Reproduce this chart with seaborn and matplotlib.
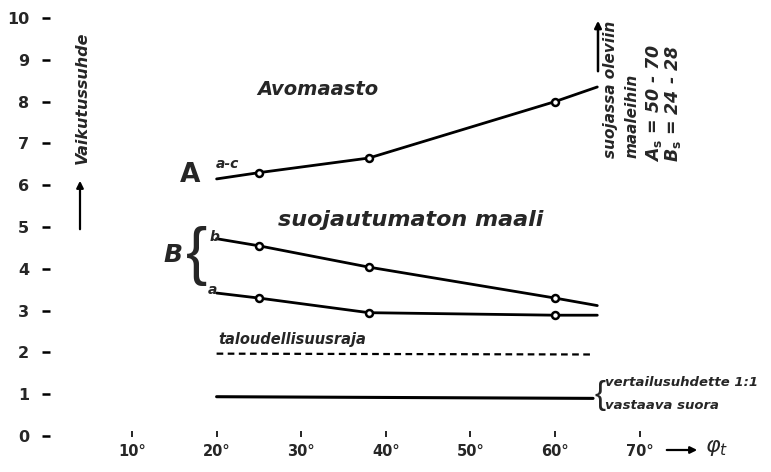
import matplotlib
matplotlib.use("Agg")
import matplotlib.pyplot as plt
import seaborn as sns
import pandas as pd

# ---- data ----
angle_A = [20, 25, 38, 60, 65]
ratio_A = [6.15, 6.30, 6.65, 8.00, 8.35]
angle_B = [20, 25, 38, 60, 65]
ratio_Bb = [4.72, 4.55, 4.04, 3.30, 3.12]
ratio_Ba = [3.42, 3.30, 2.95, 2.89, 2.89]
angle_lim = [20, 64.5]
ratio_econ = [1.97, 1.95]
ratio_ref = [0.94, 0.90]
y_ticks = list(range(0, 11))
x_ticks = [10, 20, 30, 40, 50, 60, 70]
x_tick_labels = [f"{v}°" for v in x_ticks]

sns.set_theme(style="white")
plt.rcParams["font.family"] = ["DejaVu Sans"]

W, H = 771, 472
fig = plt.figure(figsize=(W / 100, H / 100), dpi=100)
L, Bm = 50, 35
ax = fig.add_axes([L / W, Bm / H, (W - L) / W, (H - Bm) / H])
ax.set_facecolor("white")
fig.patch.set_facecolor("white")

# pixel mapping of the reference: x_px = 132 + (deg-10)*8.46 ; y_px = 436 - v*41.8
xmin = 10 + (L - 132) / 8.46
xmax = 10 + (W - 132) / 8.46
ymin = (436 - (H - Bm)) / 41.8
ymax = 436 / 41.8

line_kw = dict(color="black", linewidth=2.0, ax=ax, legend=False)
mk = dict(marker="o", markevery=[1, 2, 3], markersize=5, markerfacecolor="white",
          markeredgecolor="black", markeredgewidth=1.8)

sns.lineplot(x=angle_A, y=ratio_A, **line_kw, **mk)
sns.lineplot(x=angle_B, y=ratio_Bb, **line_kw, **mk)
sns.lineplot(x=angle_B, y=ratio_Ba, **line_kw, **mk)
sns.lineplot(x=angle_lim, y=ratio_econ, color="black", linewidth=1.6, linestyle=(0, (3, 2)), ax=ax)
sns.lineplot(x=angle_lim, y=ratio_ref, color="black", linewidth=2.2, ax=ax)

ax.set_xlim(xmin, xmax)
ax.set_ylim(ymin, ymax)
for s in ax.spines.values():
    s.set_visible(False)

ax.set_yticks(y_ticks)
ax.set_yticklabels([str(v) for v in y_ticks], fontsize=11.5, fontweight="bold")
ax.set_xticks(x_ticks)
ax.set_xticklabels(x_tick_labels, fontsize=10.5, fontweight="bold")
ax.tick_params(axis="y", direction="out", length=6, width=1.8, pad=9, color="black", left=True)
ax.tick_params(axis="x", direction="in", length=4.5, width=1.2, pad=5, color="black", bottom=True)
ax.set_xlabel("")
ax.set_ylabel("")
ax.grid(False)

def fx(px):
    return px / W

def fy(py):
    return 1 - py / H

# in-plot annotations
ax.text(32.0, 8.28, "Avomaasto", fontsize=14, fontweight="bold", style="italic",
        ha="center", va="center")
ax.text(27.3, 5.17, "suojautumaton maali", fontsize=16, fontweight="bold", style="italic",
        ha="left", va="center")
ax.text(16.9, 6.25, "A", fontsize=19, fontweight="bold", ha="center", va="center")
ax.text(21.3, 6.50, "a-c", fontsize=10, fontweight="bold", style="italic", ha="center", va="center")
ax.text(14.8, 4.33, "B", fontsize=18, fontweight="bold", style="italic", ha="center", va="center")
ax.text(17.6, 4.30, "{", fontsize=46, family=["Liberation Sans", "DejaVu Sans"],
        ha="center", va="center")
ax.text(19.8, 4.76, "b", fontsize=10, fontweight="bold", style="italic", ha="center", va="center")
ax.text(19.5, 3.50, "a", fontsize=10, fontweight="bold", style="italic", ha="center", va="center")
ax.text(20.2, 2.30, "taloudellisuusraja", fontsize=10.5, fontweight="bold", style="italic",
        ha="left", va="center")
ax.text(65.3, 0.98, "{", fontsize=24, family=["Liberation Sans", "DejaVu Sans"],
        ha="center", va="center")
ax.text(65.9, 1.27, "vertailusuhdette 1:1", fontsize=9.5, fontweight="bold", style="italic",
        ha="left", va="center")
ax.text(65.9, 0.72, "vastaava suora", fontsize=9.5, fontweight="bold", style="italic",
        ha="left", va="center")

# y-axis label and arrow
fig.text(fx(82), fy(164), "Vaikutussuhde", rotation=90, rotation_mode="anchor",
         ha="left", va="center", fontsize=11.5, fontweight="bold", style="italic")
ax.annotate("", xy=(fx(80), fy(178)), xytext=(fx(80), fy(232)), xycoords="figure fraction",
            textcoords="figure fraction",
            arrowprops=dict(arrowstyle="-|>", color="black", lw=1.6, mutation_scale=10))

# top-right annotations
ax.annotate("", xy=(fx(598), fy(18)), xytext=(fx(598), fy(74)), xycoords="figure fraction",
            textcoords="figure fraction",
            arrowprops=dict(arrowstyle="-|>", color="black", lw=1.8, mutation_scale=10))
fig.text(fx(611), fy(158), "suojassa oleviin", rotation=90, rotation_mode="anchor",
         ha="left", va="center", fontsize=11, fontweight="bold", style="italic")
fig.text(fx(632), fy(158), "maaleihin", rotation=90, rotation_mode="anchor",
         ha="left", va="center", fontsize=11, fontweight="bold", style="italic")
fig.text(fx(654), fy(162), r"A$_\mathbf{s}$ = 50 - 70", rotation=90, rotation_mode="anchor",
         ha="left", va="center", fontsize=12.5, fontweight="bold", style="italic")
fig.text(fx(673), fy(162), r"B$_\mathbf{s}$ = 24 - 28", rotation=90, rotation_mode="anchor",
         ha="left", va="center", fontsize=12.5, fontweight="bold", style="italic")

# x-axis arrow and symbol
ax.annotate("", xy=(fx(700), fy(450)), xytext=(fx(664), fy(450)), xycoords="figure fraction",
            textcoords="figure fraction",
            arrowprops=dict(arrowstyle="-|>", color="black", lw=1.6, mutation_scale=10))
fig.text(fx(705), fy(448), r"$\varphi_t$", fontsize=16, ha="left", va="center")

fig.savefig("out.png", dpi=100, facecolor="white")
